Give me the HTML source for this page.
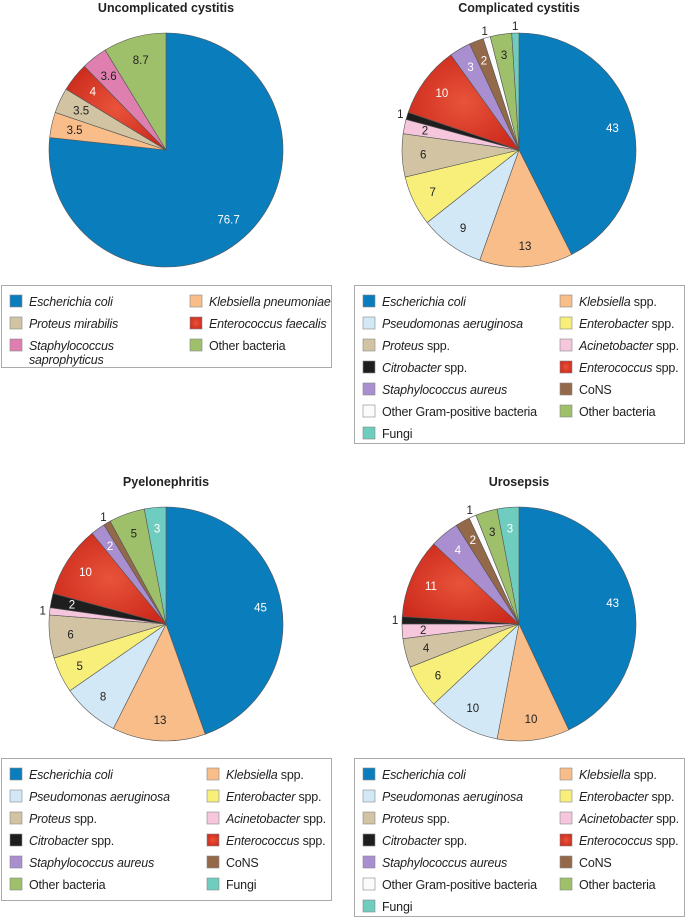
<!DOCTYPE html>
<html><head><meta charset="utf-8">
<style>
body{margin:0;width:685px;height:918px;background:#fff;font-family:"Liberation Sans",sans-serif;position:relative;overflow:hidden}
svg{position:absolute;left:0;top:0}
.title{font-weight:bold;font-size:12.5px;fill:#222}
.lg{font-size:12.5px;fill:#222;letter-spacing:-0.2px}
</style></head><body>
<svg width="685" height="918" id="chart">
<defs>
<radialGradient id="gred" cx="0.5" cy="0.5" r="0.6"><stop offset="0" stop-color="#e8533a"/><stop offset="1" stop-color="#cc2a1c"/></radialGradient>
</defs>
<text class="title" x="166" y="12" text-anchor="middle">Uncomplicated cystitis</text>
<text class="title" x="519" y="12" text-anchor="middle">Complicated cystitis</text>
<text class="title" x="166" y="486" text-anchor="middle">Pyelonephritis</text>
<text class="title" x="519" y="486" text-anchor="middle">Urosepsis</text>
</svg>
<script>
const colors={ecoli:'#0a7dbd',kleb:'#f8bd88',pseudo:'#d3e8f6',entb:'#f7ef7a',prot:'#d2c3a2',acin:'#f6c7dc',citro:'#1e1e1e',entc:'url(#gred)',staphA:'#a98fd0',cons:'#93694a',gpos:'#fbfbfb',other:'#9fc06a',fungi:'#6fcdbf',sapro:'#df7fb0'};
const dark={ecoli:1,entc:1,staphA:1,cons:1,fungi:1,citro:1};
const pie1Keys=['ecoli','kleb','prot','entc','sapro','other'];
const pie1Values=[76.7,3.5,3.5,4,3.6,8.7];
const pie1Labels=['76.7','3.5','3.5','4','3.6','8.7'];
const pie2Keys=['ecoli','kleb','pseudo','entb','prot','acin','citro','entc','staphA','cons','gpos','other','fungi'];
const pie2Values=[43,13,9,7,6,2,1,10,3,2,1,3,1];
const pie3Keys=['ecoli','kleb','pseudo','entb','prot','acin','citro','entc','staphA','cons','other','fungi'];
const pie3Values=[45,13,8,5,6,1,2,10,2,1,5,3];
const pie4Keys=['ecoli','kleb','pseudo','entb','prot','acin','citro','entc','staphA','cons','gpos','other','fungi'];
const pie4Values=[43,10,10,6,4,2,1,11,4,2,1,3,3];
const svg=document.getElementById('chart');
const NS='http://www.w3.org/2000/svg';
function drawPie(cx,cy,r,keys,vals,labels,name,labR){
  const tot=vals.reduce((a,b)=>a+b,0);let a0=0;
  keys.forEach((k,i)=>{
    const a1=a0+vals[i]/tot*Math.PI*2;
    const p=(a)=>[cx+r*Math.sin(a),cy-r*Math.cos(a)];
    const [x0,y0]=p(a0),[x1,y1]=p(a1);
    const path=document.createElementNS(NS,'path');
    path.setAttribute('d',`M${cx},${cy}L${x0},${y0}A${r},${r} 0 ${a1-a0>Math.PI?1:0} 1 ${x1},${y1}Z`);
    path.setAttribute('fill',colors[k]);path.setAttribute('stroke','#555');path.setAttribute('stroke-width','0.6');
    
    
    svg.appendChild(path);
    const am=(a0+a1)/2;const out=vals[i]<=1;const rr=out?r+7:r*labR;
    const t=document.createElementNS(NS,'text');
    t.setAttribute('x',cx+rr*Math.sin(am));t.setAttribute('y',cy-rr*Math.cos(am)+4);
    t.setAttribute('text-anchor','middle');t.setAttribute('font-size','11.5');
    t.setAttribute('fill',(!out&&dark[k])?'#fff':'#222');
    t.textContent=labels?labels[i]:String(vals[i]);
    
    
    svg.appendChild(t);
    a0=a1;
  });
}
drawPie(166,150,117,pie1Keys,pie1Values,pie1Labels,'uncomplicated',0.8);
drawPie(519,150,117,pie2Keys,pie2Values,null,'complicated',0.82);
drawPie(166,624,117,pie3Keys,pie3Values,null,'pyelonephritis',0.82);
drawPie(519,624,117,pie4Keys,pie4Values,null,'urosepsis',0.82);
const names={ecoli:['<tspan font-style="italic">Escherichia coli</tspan>'],kleb:['<tspan font-style="italic">Klebsiella</tspan> spp.'],pseudo:['<tspan font-style="italic">Pseudomonas aeruginosa</tspan>'],entb:['<tspan font-style="italic">Enterobacter</tspan> spp.'],prot:['<tspan font-style="italic">Proteus</tspan> spp.'],acin:['<tspan font-style="italic">Acinetobacter</tspan> spp.'],citro:['<tspan font-style="italic">Citrobacter</tspan> spp.'],entc:['<tspan font-style="italic">Enterococcus</tspan> spp.'],staphA:['<tspan font-style="italic">Staphylococcus aureus</tspan>'],cons:['CoNS'],gpos:['Other Gram-positive bacteria'],other:['Other bacteria'],fungi:['Fungi']};
function legend(x,y,w,h,items,name,c2){
  const b=document.createElementNS(NS,'rect');
  b.setAttribute('x',x+0.5);b.setAttribute('y',y+0.5);b.setAttribute('width',w);b.setAttribute('height',h);
  b.setAttribute('fill','#fff');b.setAttribute('stroke','#aaa');
  
  
  svg.appendChild(b);
  items.forEach(([k,col,row,txt])=>{
    const sx=x+(col?c2:9),sy=y+10+row*22;
    const r=document.createElementNS(NS,'rect');
    r.setAttribute('x',sx);r.setAttribute('y',sy);r.setAttribute('width',12);r.setAttribute('height',12);
    r.setAttribute('fill',colors[k]);r.setAttribute('stroke','#888');r.setAttribute('stroke-width','0.6');
    
    
    svg.appendChild(r);
    const t=document.createElementNS(NS,'text');
    t.setAttribute('x',sx+19);t.setAttribute('y',sy+11);t.setAttribute('class','lg');
    t.innerHTML=txt||names[k][0];
    
    
    svg.appendChild(t);
  });
}
legend(1,285,330,82,[['ecoli',0,0],['kleb',1,0,'<tspan font-style="italic">Klebsiella pneumoniae</tspan>'],['prot',0,1,'<tspan font-style="italic">Proteus mirabilis</tspan>'],['entc',1,1,'<tspan font-style="italic">Enterococcus faecalis</tspan>'],['sapro',0,2,'<tspan font-style="italic">Staphylococcus</tspan><tspan x="29" dy="14" font-style="italic">saprophyticus</tspan>'],['other',1,2]],'legend-uncomplicated',189);
const full=[['ecoli',0,0],['kleb',1,0],['pseudo',0,1],['entb',1,1],['prot',0,2],['acin',1,2],['citro',0,3],['entc',1,3],['staphA',0,4],['cons',1,4],['gpos',0,5],['other',1,5],['fungi',0,6]];
legend(354,285,330,158,full,'legend-complicated',206);
legend(1,758,330,142,[['ecoli',0,0],['kleb',1,0],['pseudo',0,1],['entb',1,1],['prot',0,2],['acin',1,2],['citro',0,3],['entc',1,3],['staphA',0,4],['cons',1,4],['other',0,5],['fungi',1,5]],'legend-pyelonephritis',206);
legend(354,758,330,158,full,'legend-urosepsis',206);
</script>
</body></html>
